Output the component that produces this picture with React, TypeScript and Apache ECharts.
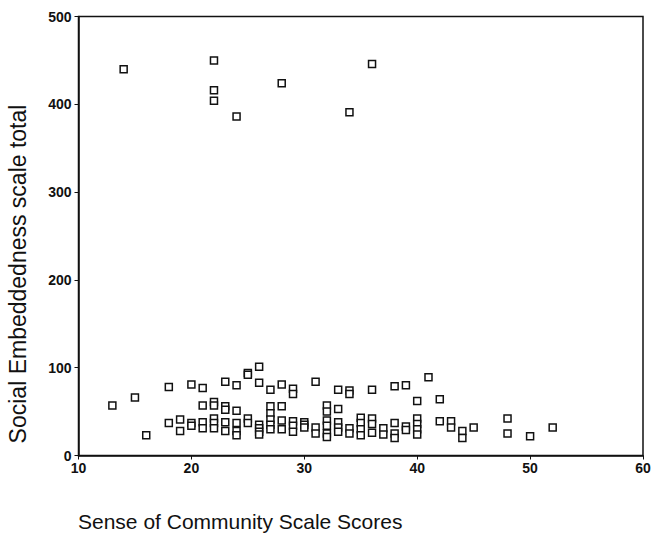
import React, { useEffect, useRef } from "react";
import * as echarts from "echarts";

// Sense of Community Scale Scores (x) and Social Embeddedness scale totals (y)
const scsScores: number[] = [
  13, 14, 15, 16,
  18, 18, 19, 19,
  20, 20, 20,
  21, 21, 21, 21,
  22, 22, 22, 22, 22, 22, 22, 22,
  23, 23, 23, 23, 23,
  24, 24, 24, 24, 24, 24,
  25, 25, 25, 25,
  26, 26, 26, 26, 26, 26,
  27, 27, 27, 27, 27, 27,
  28, 28, 28, 28, 28,
  29, 29, 29, 29, 29,
  30, 30, 30,
  31, 31, 31,
  32, 32, 32, 32, 32, 32,
  33, 33, 33, 33, 33,
  34, 34, 34, 34, 34,
  35, 35, 35, 35,
  36, 36, 36, 36, 36,
  37, 37,
  38, 38, 38, 38,
  39, 39, 39,
  40, 40, 40, 40, 40,
  41,
  42, 42,
  43, 43,
  44, 44,
  45,
  48, 48,
  50,
  52,
];

const sesTotals: number[] = [
  57, 440, 66, 23,
  78, 37, 41, 28,
  81, 37, 34,
  77, 57, 38, 31,
  61, 57, 42, 37, 31, 450, 416, 404,
  84, 56, 52, 38, 28,
  80, 51, 37, 28, 23, 386,
  94, 92, 42, 37,
  101, 83, 35, 31, 27, 24,
  75, 56, 48, 41, 35, 30,
  81, 56, 40, 30, 424,
  76, 70, 39, 34, 27,
  38, 35, 32,
  84, 32, 25,
  57, 50, 40, 34, 25, 21,
  75, 53, 38, 32, 27,
  74, 70, 31, 25, 391,
  43, 37, 30, 23,
  75, 42, 36, 26, 446,
  31, 24,
  79, 37, 25, 20,
  80, 33, 29,
  62, 42, 36, 30, 24,
  89,
  64, 39,
  39, 32,
  28, 20,
  32,
  42, 25,
  22,
  32,
];

const xTicks = { min: 10, max: 60, interval: 10 };
const yTicks = { min: 0, max: 500, interval: 100 };
const xTitle = "Sense of Community Scale Scores";
const yTitle = "Social Embeddedness scale total";

export default function App() {
  const ref = useRef<HTMLDivElement>(null);

  useEffect(() => {
    if (!ref.current) return;
    const chart = echarts.init(ref.current, null, { renderer: "svg" });
    const points = scsScores.map((x, i) => [x, sesTotals[i]]);
    const font = "'Liberation Sans', Arial, sans-serif";
    chart.setOption({
      animation: false,
      backgroundColor: "#ffffff",
      grid: {
        left: 78.5,
        right: 11,
        top: 16.5,
        bottom: 81.5,
        show: true,
        borderColor: "#111",
        borderWidth: 1.5,
        backgroundColor: "transparent",
      },
      xAxis: {
        type: "value",
        min: xTicks.min,
        max: xTicks.max,
        interval: xTicks.interval,
        axisLine: { show: true, lineStyle: { color: "#111", width: 1.5 } },
        axisTick: { show: true, inside: false, length: 4, lineStyle: { color: "#111" } },
        axisLabel: { color: "#111", fontSize: 14, fontWeight: "bold", fontFamily: font, margin: 5 },
        splitLine: { show: false },
      },
      yAxis: {
        type: "value",
        min: yTicks.min,
        max: yTicks.max,
        interval: yTicks.interval,
        axisLine: { show: true, lineStyle: { color: "#111", width: 1.5 } },
        axisTick: { show: true, inside: false, length: 4, lineStyle: { color: "#111" } },
        axisLabel: { color: "#111", fontSize: 14, fontWeight: "bold", fontFamily: font, margin: 7 },
        splitLine: { show: false },
      },
      graphic: [
        {
          type: "text",
          x: 78,
          y: 511,
          style: { text: xTitle, fill: "#111", font: `21px ${font}`, textAlign: "left", textVerticalAlign: "top" },
        },
        {
          type: "text",
          x: 18,
          y: 274,
          rotation: Math.PI / 2,
          style: { text: yTitle, fill: "#111", font: `23px ${font}`, textAlign: "center", textVerticalAlign: "middle" },
        },
      ],
      series: [
        {
          type: "scatter",
          data: points,
          symbol: "rect",
          symbolSize: 7,
          itemStyle: { color: "#ffffff", borderColor: "#111", borderWidth: 1.5, opacity: 1 },
        },
      ],
    });
    return () => chart.dispose();
  }, []);

  return (
    <div
      ref={ref}
      style={{ position: "absolute", left: 0, top: 0, width: 654, height: 537 }}
    />
  );
}
